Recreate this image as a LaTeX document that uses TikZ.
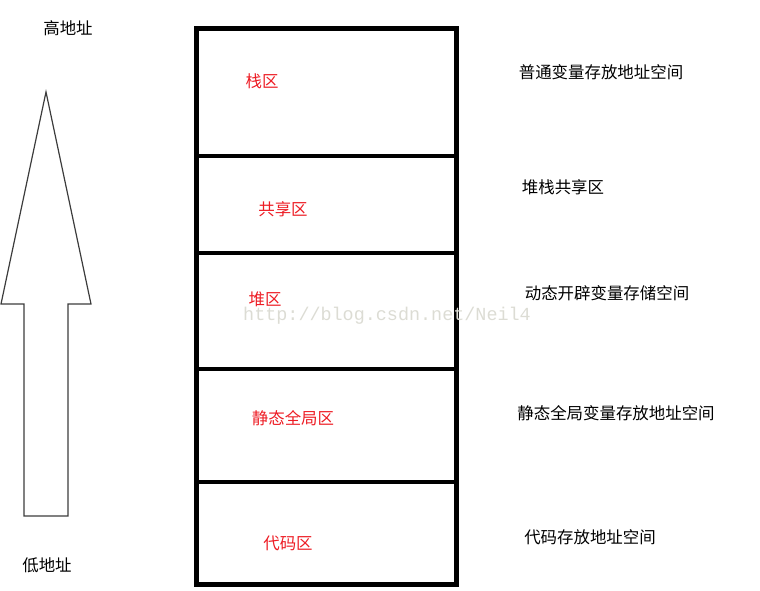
\documentclass[tikz,border=0pt]{standalone}
\usepackage{fontspec}
\newfontfamily\cjk{Noto Sans CJK SC}
\newfontfamily\wmfont{Liberation Mono}
\definecolor{zonered}{RGB}{237,28,36}
\definecolor{arrowgray}{RGB}{60,60,60}
\definecolor{markgray}{RGB}{220,220,212}
\tikzset{
  zone/.style={text=zonered,font=\cjk\fontsize{16.5}{19}\selectfont,inner sep=0pt},
  desc/.style={text=black,font=\cjk\fontsize{16.5}{19}\selectfont,inner sep=0pt},
  addr/.style={desc}
}

\begin{document}
\begin{tikzpicture}[x=1bp,y=-1bp,line cap=butt,line join=miter]
        \useasboundingbox (0,0) rectangle (760,591);

        % Flecha de direcciones (de baja a alta)
        \draw[arrowgray,line width=1.2bp]
            (46,92) -- (91,304) -- (68,304) -- (68,516)
            -- (24,516) -- (24,304) -- (1,304) -- cycle;
        \node[addr] (high) at (68,28) {高地址};
        \node[addr] (low) at (47,565) {低地址};

        % Marco de la memoria
        \draw[line width=5bp] (196.5,28.5) rectangle (456,584);
        \foreach \yy in {156.5,253,368.5,481.5}
            \draw[line width=4bp] (196.5,\yy) -- (456,\yy);

        % Marca de agua
        \node[text=markgray,font=\wmfont\fontsize{18.5}{20}\selectfont,inner sep=0pt]
            (mark) at (387,316) {http://blog.csdn.net/Neil4};

        % Zonas
        \node[zone] (stack) at (262,81) {栈区};
        \node[zone] (shared) at (283,209) {共享区};
        \node[zone] (heap) at (265,299) {堆区};
        \node[zone] (static) at (293,418) {静态全局区};
        \node[zone] (code) at (288,543) {代码区};

        % Descripciones
        \node[desc] (stackdesc) at (601,72) {普通变量存放地址空间};
        \node[desc] (shareddesc) at (563,187) {堆栈共享区};
        \node[desc] (heapdesc) at (607,293) {动态开辟变量存储空间};
        \node[desc] (staticdesc) at (616,413) {静态全局变量存放地址空间};
        \node[desc] (codedesc) at (590,537) {代码存放地址空间};
    \end{tikzpicture}
\end{document}
